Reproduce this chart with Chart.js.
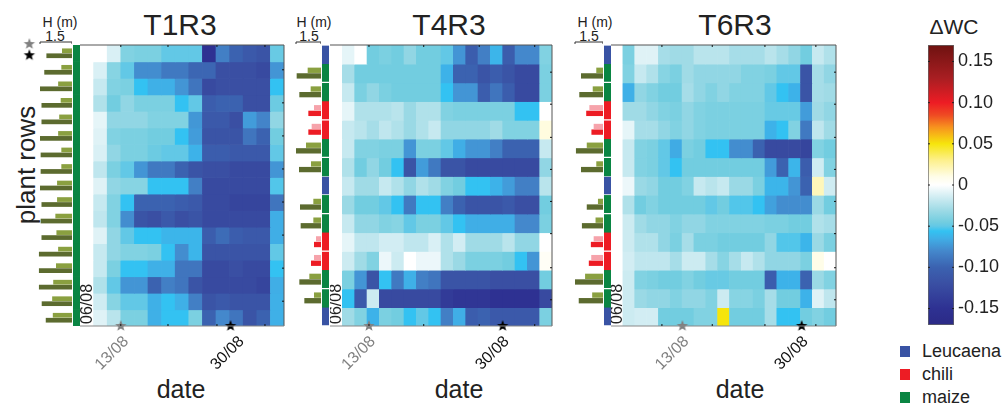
<!DOCTYPE html>
<html>
<head>
    <title>Delta WC heatmaps</title>
    <script src="https://cdn.jsdelivr.net/npm/chart.js"></script>
    <style>
        body { margin: 0; background: #fff; overflow: hidden; font-family: "Liberation Sans", Arial, sans-serif; color: #222; }
        canvas { position: absolute; filter: blur(0.4px); }
        .lbl { position: absolute; transform: translate(-50%, -50%); white-space: nowrap; }
        .swatch { position: absolute; width: 10px; height: 11px; left: 900px; }
    </style>
</head>
<body>
    <div class="lbl" style="left:180px;top:25px;font-size:30px">T1R3</div>
    <div class="lbl" style="left:449px;top:25px;font-size:30px">T4R3</div>
    <div class="lbl" style="left:735px;top:25px;font-size:30px">T6R3</div>
    <div class="lbl" style="left:181px;top:389px;font-size:25px">date</div>
    <div class="lbl" style="left:459px;top:389px;font-size:25px">date</div>
    <div class="lbl" style="left:740px;top:389px;font-size:25px">date</div>
    <div class="lbl" style="left:26px;top:165px;font-size:26px;transform:translate(-50%,-50%) rotate(-90deg)">plant rows</div>
    <div class="lbl" style="left:60px;top:22px;font-size:14px">H (m)</div>
    <div class="lbl" style="left:55px;top:36px;font-size:14px">1.5</div>
    <div class="lbl" style="left:314px;top:22px;font-size:14px">H (m)</div>
    <div class="lbl" style="left:309px;top:36px;font-size:14px">1.5</div>
    <div class="lbl" style="left:595px;top:22px;font-size:14px">H (m)</div>
    <div class="lbl" style="left:589px;top:36px;font-size:14px">1.5</div>
    <div class="lbl" style="left:954px;top:27px;font-size:21px">&Delta;WC</div>
    <div class="swatch" style="top:346px;background:#3953a4"></div>
    <div class="swatch" style="top:369px;background:#ed1c24"></div>
    <div class="swatch" style="top:392px;background:#0a8543"></div>
    <div class="lbl" style="left:922px;top:351px;font-size:18px;transform:translateY(-50%)">Leucaena</div>
    <div class="lbl" style="left:922px;top:374px;font-size:18px;transform:translateY(-50%)">chili</div>
    <div class="lbl" style="left:922px;top:397px;font-size:18px;transform:translateY(-50%)">maize</div>

    <script>
        // cell values (delta WC), one line per plant row
        const t1r3Values = [
            [0,0,-.012,-.04,-.042,-.042,-.05,-.05,-.05,-.15,-.085,-.1,-.11,-.115,-.048],
            [0,-.012,-.038,-.05,-.078,-.078,-.088,-.088,-.098,-.098,-.12,-.12,-.12,-.125,-.075],
            [0,-.018,-.04,-.042,-.056,-.064,-.064,-.075,-.09,-.125,-.12,-.12,-.12,-.12,-.056],
            [0,-.025,-.045,-.035,-.042,-.042,-.042,-.056,-.05,-.105,-.1,-.1,-.12,-.12,-.047],
            [0,-.008,-.035,-.035,-.035,-.04,-.04,-.04,-.074,-.11,-.11,-.12,-.072,-.082,-.035],
            [0,-.01,-.04,-.042,-.042,-.045,-.045,-.056,-.072,-.115,-.115,-.115,-.09,-.1,-.045],
            [0,-.012,-.035,-.042,-.042,-.047,-.05,-.05,-.063,-.105,-.105,-.11,-.11,-.11,-.05],
            [0,-.02,-.042,-.05,-.075,-.088,-.088,-.1,-.115,-.12,-.12,-.125,-.125,-.125,-.075],
            [0,-.01,-.035,-.038,-.038,-.056,-.056,-.056,-.085,-.125,-.125,-.125,-.125,-.125,-.052],
            [0,-.018,-.04,-.056,-.1,-.1,-.1,-.105,-.11,-.125,-.125,-.13,-.13,-.13,-.09],
            [0,-.02,-.04,-.078,-.115,-.12,-.11,-.12,-.115,-.125,-.125,-.125,-.125,-.125,-.065],
            [0,-.01,-.035,-.05,-.056,-.056,-.062,-.062,-.062,-.105,-.095,-.105,-.11,-.11,-.065],
            [0,-.018,-.035,-.04,-.04,-.042,-.056,-.078,-.062,-.115,-.115,-.115,-.115,-.115,-.05],
            [0,-.018,-.042,-.056,-.056,-.064,-.064,-.09,-.09,-.125,-.125,-.12,-.125,-.125,-.056],
            [0,-.025,-.05,-.075,-.075,-.1,-.085,-.09,-.115,-.125,-.125,-.125,-.125,-.13,-.065],
            [0,-.015,-.038,-.05,-.05,-.064,-.056,-.064,-.085,-.115,-.11,-.115,-.115,-.115,-.064],
            [0,-.01,-.022,-.042,-.042,-.064,-.056,-.056,-.042,-.1,-.08,-.09,-.115,-.1,-.064]
        ];
        const t4r3Values = [
            [0,-.008,0,-.045,-.042,-.045,-.035,-.045,-.045,-.05,-.075,-.105,-.085,-.062,-.105,-.08,-.08,-.04],
            [0,-.028,-.045,-.045,-.045,-.045,-.045,-.045,-.045,-.063,-.1,-.1,-.115,-.105,-.115,-.125,-.125,-.042],
            [0,-.018,-.042,-.035,-.042,-.045,-.045,-.045,-.045,-.056,-.075,-.075,-.105,-.09,-.105,-.125,-.125,-.042],
            [0,-.008,-.025,-.025,-.025,-.022,-.032,-.025,-.025,-.04,-.042,-.042,-.042,-.042,-.042,-.056,-.056,0],
            [0,-.018,-.022,-.028,-.02,-.025,-.032,-.025,-.018,-.035,-.035,-.035,-.035,-.03,-.04,-.04,-.04,.012],
            [0,-.018,-.04,-.04,-.042,-.042,-.075,-.042,-.042,-.05,-.065,-.075,-.075,-.085,-.1,-.1,-.1,-.018],
            [0,-.025,-.045,-.035,-.045,-.056,-.115,-.072,-.088,-.115,-.115,-.125,-.125,-.125,-.125,-.125,-.125,-.035],
            [0,-.018,-.03,-.03,-.018,-.025,-.035,-.025,-.03,-.04,-.045,-.056,-.056,-.063,-.072,-.085,-.085,-.022],
            [0,-.032,-.045,-.045,-.05,-.056,-.088,-.056,-.056,-.085,-.1,-.115,-.115,-.115,-.11,-.12,-.12,-.045],
            [0,-.018,-.035,-.035,-.04,-.038,-.05,-.042,-.042,-.05,-.056,-.065,-.065,-.065,-.065,-.08,-.08,-.042],
            [0,-.008,-.02,-.02,-.014,-.014,-.02,-.02,-.012,-.025,-.014,-.03,-.03,-.03,-.022,-.035,-.035,0],
            [0,-.016,-.03,-.04,-.006,-.016,0,-.006,-.006,-.025,-.032,-.042,-.042,-.042,-.045,-.056,-.075,.004],
            [0,-.042,-.075,-.115,-.056,-.088,-.064,-.085,-.09,-.115,-.115,-.115,-.115,-.12,-.12,-.12,-.12,-.045],
            [0,-.056,-.11,-.016,-.125,-.125,-.125,-.125,-.125,-.14,-.145,-.145,-.145,-.15,-.15,-.15,-.15,-.125],
            [0,-.03,-.04,-.063,-.042,-.045,-.056,-.05,-.056,-.085,-.065,-.105,-.1,-.11,-.11,-.11,-.11,-.042]
        ];
        const t6r3Values = [
            [0,-.042,-.01,-.01,-.028,-.03,-.03,-.022,-.022,-.022,-.028,-.028,-.028,-.022,-.028,-.035,-.045,-.018,-.025],
            [0,-.04,-.018,-.025,-.038,-.042,-.03,-.035,-.035,-.035,-.035,-.04,-.04,-.042,-.05,-.05,-.115,-.028,-.035],
            [0,-.064,-.035,-.04,-.045,-.045,-.028,-.035,-.04,-.035,-.04,-.04,-.04,-.05,-.056,-.063,-.115,-.028,-.03],
            [0,-.03,-.03,-.035,-.04,-.042,-.035,-.04,-.042,-.042,-.042,-.042,-.042,-.048,-.048,-.048,-.072,-.03,-.035],
            [0,-.008,-.028,-.028,-.035,-.04,-.035,-.04,-.042,-.042,-.042,-.042,-.042,-.063,-.056,-.04,-.088,-.02,-.03],
            [0,-.018,-.04,-.042,-.05,-.066,-.042,-.045,-.056,-.056,-.078,-.078,-.1,-.125,-.125,-.125,-.13,-.04,-.045],
            [0,-.018,-.04,-.042,-.05,-.056,-.045,-.045,-.045,-.045,-.045,-.045,-.045,-.072,-.1,-.062,-.105,-.015,-.04],
            [0,-.006,-.032,-.035,-.045,-.045,-.04,-.018,-.022,-.018,-.032,-.032,-.042,-.062,-.062,-.075,-.1,.02,-.015],
            [0,-.025,-.045,-.04,-.045,-.045,-.045,-.045,-.05,-.045,-.052,-.052,-.056,-.07,-.078,-.078,-.078,-.032,-.045],
            [0,-.016,-.03,-.035,-.035,-.04,-.035,-.035,-.04,-.04,-.04,-.04,-.04,-.042,-.042,-.045,-.045,-.025,-.028],
            [0,-.016,-.025,-.025,-.035,-.042,-.028,-.042,-.042,-.045,-.045,-.045,-.045,-.035,-.052,-.052,-.062,-.032,-.042],
            [0,-.014,-.02,-.02,-.02,-.028,-.016,-.016,-.028,-.038,-.028,-.018,-.025,-.035,-.035,-.035,-.042,.01,0],
            [0,-.016,-.04,-.042,-.045,-.045,-.04,-.045,-.048,-.048,-.045,-.045,-.045,-.105,-.063,-.063,-.1,-.032,-.04],
            [0,-.016,-.032,-.035,-.035,-.04,-.035,-.035,-.04,-.016,-.038,-.038,-.042,-.028,-.045,-.045,-.063,-.01,-.02],
            [0,-.016,-.014,-.014,-.045,-.045,-.045,-.04,-.04,.05,-.045,-.045,-.045,-.028,-.056,-.056,-.045,-.04,-.045]
        ];

        // plant type per row, L leucaena, C chili, M maize
        const t1r3Types = ['M','M','M','M','M','M','M','M','M','M','M','M','M','M','M','M','M'];
        const t4r3Types = ['L','M','M','C','C','M','M','L','M','M','C','C','M','M','L'];
        const t6r3Types = t4r3Types;

        // plant height (m), long lower bar and short upper bar
        const t1r3Dark = [1.2,1.3,1.5,1.43,1.43,1.5,1.47,1.47,1.5,1.43,1.47,1.43,1.55,1.55,1.55,1.42,1.23];
        const t1r3Light = [.47,.5,.65,.53,.6,.65,.5,.5,.7,.7,.78,.73,.65,.75,.88,.93,.9];
        const t4r3Dark = [0,1.46,1.3,.76,.76,1.5,1.32,0,1.26,1.22,.42,.6,1.3,1,0];
        const t4r3Light = [0,.8,.62,.42,.56,.9,.6,0,.46,.46,.3,.42,.7,.42,0];
        const t6r3Dark = [0,1.18,1.27,.9,.62,1.45,1.18,0,.87,1.13,.65,.76,1.5,1.3,0];
        const t6r3Light = [0,.36,.55,.73,.5,.87,.36,0,.27,.4,.5,.63,.96,.58,0];

        // axis ticks, in columns and rows of each panel
        const t1r3ColTicks = [3, 6.47, 10.07, 13.6];
        const t4r3ColTicks = [3.16, 7.6, 12.1, 16.6];
        const t6r3ColTicks = [4.3, 8.55, 13, 17.3];
        const t1r3RowTicks = [1.5, 3.5, 5.5, 7.5, 9.5, 11.5, 13.5, 15.5];
        const t4r3RowTicks = [1.45, 3.16, 4.93, 6.64, 8.35, 10.07, 11.89, 13.6];
        const dateLabels = ['13/08', '30/08'];
        const t1r3DateCols = [3, 11.07];
        const t4r3DateCols = [3.16, 14];
        const t6r3DateCols = [6.03, 16.1];
        const t1r3LabelCols = [3.1, 11.6];

        const colorbarTicks = [0.15, 0.10, 0.05, 0, -0.05, -0.10, -0.15];
        const colorbarLabels = ['0.15', '0.10', '0.05', '0', '-0.05', '-0.10', '-0.15'];

        const colorStops = [
            [-.17, '#2b2a86'], [-.15, '#2e3192'], [-.12, '#3a4fa3'], [-.10, '#3b62b0'],
            [-.08, '#4488cc'], [-.065, '#40aee6'], [-.056, '#33c2f2'], [-.05, '#62c8e6'],
            [-.045, '#72cde0'], [-.03, '#a0dbe6'], [-.015, '#cfecf2'], [0, '#ffffff'],
            [.01, '#fffde8'], [.03, '#fdf08c'], [.05, '#f6e50c'], [.07, '#f7931e'],
            [.085, '#ef4a23'], [.10, '#ed1c24'], [.13, '#a81e22'], [.17, '#6e1210']
        ];
        const typeColors = { L: '#3953a4', C: '#ed1c24', M: '#0a8543' };
        const darkColors = { L: '#5c6b2f', C: '#ed1c24', M: '#5c6b2f' };
        const lightColors = { L: '#8aa040', C: '#f6a3ab', M: '#8aa040' };

        Chart.defaults.font.family = '"Liberation Sans", Arial, sans-serif';
        Chart.defaults.animation = false;
        Chart.defaults.responsive = false;
        Chart.defaults.plugins.legend.display = false;
        Chart.defaults.plugins.tooltip.enabled = false;

        function hexRgb(h) {
            return [1, 3, 5].map(i => parseInt(h.substr(i, 2), 16));
        }

        function heatColor(v) {
            for (let i = 1; i < colorStops.length; i++) {
                if (v <= colorStops[i][0]) {
                    const a = colorStops[i - 1], b = colorStops[i];
                    const t = (v - a[0]) / (b[0] - a[0]);
                    const ca = hexRgb(a[1]), cb = hexRgb(b[1]);
                    return 'rgb(' + ca.map((c, k) => Math.round(c + (cb[k] - c) * t)).join(',') + ')';
                }
            }
            return colorStops[colorStops.length - 1][1];
        }

        function addCanvas(left, top, width, height) {
            const c = document.createElement('canvas');
            c.width = width;
            c.height = height;
            c.style.left = left + 'px';
            c.style.top = top + 'px';
            document.body.appendChild(c);
            return c;
        }

        function makeStar(color, r) {
            const c = document.createElement('canvas');
            c.width = c.height = r * 2 + 2;
            const g = c.getContext('2d');
            g.translate(r + 1, r + 1);
            g.beginPath();
            for (let i = 0; i < 10; i++) {
                const rad = i % 2 ? r * 0.42 : r;
                const a = -Math.PI / 2 + i * Math.PI / 5;
                g.lineTo(rad * Math.cos(a), rad * Math.sin(a));
            }
            g.closePath();
            g.fillStyle = color;
            g.fill();
            return c;
        }

        const greyStar = makeStar('#808080', 6);
        const blackStar = makeStar('#000000', 6);
        const top_ = 45, bottom_ = 326, pageH = 407;

        function drawHeat(p) {
            const nCols = p.values[0].length;
            const nRows = p.values.length;
            const datasets = p.values.map((row, r) => ({
                data: row.map((v, c) => ({ x: c + 0.5, y: [r, r + 1.04] })),
                backgroundColor: row.map(heatColor),
                stack: 'cells',
                barPercentage: 1.05,
                categoryPercentage: 1
            }));
            datasets.push({
                type: 'scatter',
                order: -1,
                clip: false,
                data: p.dateCols.map(c => ({ x: c, y: nRows })),
                pointStyle: [greyStar, blackStar],
                pointRadius: 6
            });
            const labelCols = p.labelCols || p.dateCols;
            const frame = {
                id: 'frame',
                afterDatasetsDraw(chart) {
                    const g = chart.ctx, a = chart.chartArea, sx = chart.scales.x;
                    g.save();
                    g.lineWidth = 1;
                    g.strokeStyle = '#555';
                    g.beginPath();
                    g.moveTo(a.left, a.top); g.lineTo(a.right, a.top); g.lineTo(a.right, a.bottom);
                    g.stroke();
                    g.strokeStyle = '#888';
                    g.beginPath();
                    g.moveTo(a.left, a.bottom); g.lineTo(a.right, a.bottom);
                    g.stroke();
                    g.strokeStyle = '#111';
                    p.colTicks.forEach(c => {
                        const x = sx.getPixelForValue(c);
                        g.beginPath();
                        g.moveTo(x, a.top); g.lineTo(x, a.top + 2);
                        g.moveTo(x, a.bottom); g.lineTo(x, a.bottom - 2);
                        g.stroke();
                    });
                    p.rowTicks.forEach(r => {
                        const y = chart.scales.y.getPixelForValue(r);
                        g.beginPath();
                        g.moveTo(a.right, y); g.lineTo(a.right - 2, y);
                        g.stroke();
                    });
                    g.font = '16px "Liberation Sans", Arial, sans-serif';
                    g.textBaseline = 'middle';
                    // first date sits inside the white column
                    g.save();
                    g.translate(sx.getPixelForValue(0.55), a.bottom - 2);
                    g.rotate(-Math.PI / 2);
                    g.fillStyle = '#222';
                    g.fillText('06/08', 0, 0);
                    g.restore();
                    // the two marked dates, slanted and ending under their star
                    dateLabels.forEach((label, i) => {
                        g.save();
                        g.translate(sx.getPixelForValue(labelCols[i]) + 4, a.bottom + 13);
                        g.rotate(-Math.PI / 4);
                        g.textAlign = 'right';
                        g.fillStyle = i === 0 ? '#808080' : '#111';
                        g.fillText(label, 0, 0);
                        g.restore();
                    });
                    g.restore();
                }
            };
            new Chart(addCanvas(p.heatLeft, 0, p.heatWidth + 40, pageH), {
                type: 'bar',
                data: { datasets: datasets },
                options: {
                    layout: { autoPadding: false, padding: { top: top_, right: 40, left: 0, bottom: pageH - bottom_ } },
                    scales: {
                        x: { type: 'linear', display: false, offset: false, min: 0, max: nCols },
                        y: { type: 'linear', display: false, stacked: false, reverse: true, min: 0, max: nRows }
                    }
                },
                plugins: [frame]
            });
        }

        function drawPlants(p) {
            const nRows = p.types.length;
            const rows = p.types.map((t, r) => r + 0.5);
            const datasets = [
                { data: rows.map((y, i) => ({ x: p.light[i], y: y })), backgroundColor: p.types.map(t => lightColors[t]) },
                { data: rows.map((y, i) => ({ x: p.dark[i], y: y })), backgroundColor: p.types.map(t => darkColors[t]) }
            ].map(d => Object.assign(d, { clip: false, categoryPercentage: 0.6, barPercentage: 0.95 }));
            if (p.stars) {
                datasets.push({
                    type: 'scatter', clip: false, order: -1,
                    data: p.stars, pointStyle: [greyStar, blackStar], pointRadius: 6
                });
            }
            const bracket = {
                id: 'bracket',
                afterDatasetsDraw(chart) {
                    const g = chart.ctx, sx = chart.scales.x;
                    const x0 = sx.getPixelForValue(1.5), x1 = sx.getPixelForValue(0);
                    g.save();
                    g.strokeStyle = '#333';
                    g.beginPath();
                    g.moveTo(x0, top_ - 1); g.lineTo(x0, top_ - 3); g.lineTo(x1, top_ - 3); g.lineTo(x1, top_ - 1);
                    g.stroke();
                    g.restore();
                }
            };
            const xMax = p.xMax || 1.5;
            const padLeft = p.plantRight - p.plantLeft - p.plantWidth * xMax / 1.5;
            new Chart(addCanvas(p.plantLeft, 0, p.plantRight - p.plantLeft, pageH), {
                type: 'bar',
                data: { datasets: datasets },
                options: {
                    indexAxis: 'y',
                    layout: { autoPadding: false, padding: { top: top_, bottom: pageH - bottom_, left: padLeft, right: 0 } },
                    scales: {
                        x: { type: 'linear', display: false, reverse: true, min: 0, max: xMax },
                        y: { type: 'linear', display: false, offset: false, reverse: true, min: 0, max: nRows }
                    }
                },
                plugins: [bracket]
            });
        }

        function drawStrip(p) {
            new Chart(addCanvas(p.stripLeft, top_, 7, bottom_ - top_), {
                type: 'bar',
                data: {
                    labels: p.types.map((t, i) => i),
                    datasets: [{
                        data: p.types.map(() => [0, 1]),
                        backgroundColor: p.types.map(t => typeColors[t]),
                        borderColor: '#fff',
                        borderSkipped: false,
                        borderWidth: c => ({
                            top: c.dataIndex > 0 && p.types[c.dataIndex - 1] !== p.types[c.dataIndex] ? 1 : 0,
                            bottom: c.dataIndex < p.types.length - 1 && p.types[c.dataIndex + 1] !== p.types[c.dataIndex] ? 1 : 0,
                            left: 0, right: 0
                        }),
                        barPercentage: 1.04,
                        categoryPercentage: 1
                    }]
                },
                options: {
                    indexAxis: 'y',
                    scales: {
                        x: { display: false, min: 0, max: 1 },
                        y: { display: false, reverse: true }
                    }
                }
            });
        }

        const panels = [
            {
                values: t1r3Values, types: t1r3Types, dark: t1r3Dark, light: t1r3Light,
                colTicks: t1r3ColTicks, rowTicks: t1r3RowTicks, dateCols: t1r3DateCols, labelCols: t1r3LabelCols,
                heatLeft: 80, heatWidth: 204, stripLeft: 73,
                plantLeft: 15, plantRight: 72, plantWidth: 32, xMax: 2.4,
                stars: [{ x: 2, y: -0.06 }, { x: 2, y: 0.62 }]
            },
            {
                values: t4r3Values, types: t4r3Types, dark: t4r3Dark, light: t4r3Light,
                colTicks: t4r3ColTicks, rowTicks: t4r3RowTicks, dateCols: t4r3DateCols,
                heatLeft: 330, heatWidth: 222, stripLeft: 322,
                plantLeft: 285, plantRight: 321, plantWidth: 25
            },
            {
                values: t6r3Values, types: t6r3Types, dark: t6r3Dark, light: t6r3Light,
                colTicks: t6r3ColTicks, rowTicks: t4r3RowTicks, dateCols: t6r3DateCols,
                heatLeft: 611, heatWidth: 225, stripLeft: 604,
                plantLeft: 565, plantRight: 603, plantWidth: 28
            }
        ];

        panels.forEach(p => {
            drawPlants(p);
            drawStrip(p);
            drawHeat(p);
        });

        // colour bar
        new Chart(addCanvas(915, 0, 88, pageH), {
            type: 'bar',
            data: {
                labels: ['dWC'],
                datasets: [{
                    data: [[-0.17, 0.17]],
                    barPercentage: 1,
                    categoryPercentage: 1,
                    borderColor: '#666',
                    borderWidth: 1,
                    borderSkipped: false,
                    backgroundColor(c) {
                        const a = c.chart.chartArea;
                        if (!a) return null;
                        const grad = c.chart.ctx.createLinearGradient(0, a.bottom, 0, a.top);
                        colorStops.forEach(s => grad.addColorStop((s[0] + 0.17) / 0.34, s[1]));
                        return grad;
                    }
                }]
            },
            options: {
                layout: { padding: { top: top_, bottom: pageH - 325, left: 13, right: 0 } },
                scales: {
                    x: { display: false },
                    y: {
                        position: 'right', min: -0.17, max: 0.17,
                        afterFit(s) { s.width = 49; },
                        afterBuildTicks(s) { s.ticks = colorbarTicks.map(v => ({ value: v })); },
                        grid: { display: false, drawTicks: false },
                        border: { display: false },
                        ticks: {
                            padding: 4, font: { size: 18 }, color: '#222',
                            callback: (v, i) => colorbarLabels[i]
                        }
                    }
                }
            },
            plugins: [{
                id: 'barTicks',
                afterDatasetsDraw(chart) {
                    const g = chart.ctx, a = chart.chartArea;
                    g.save();
                    g.strokeStyle = '#222';
                    colorbarTicks.forEach(v => {
                        const y = chart.scales.y.getPixelForValue(v);
                        g.beginPath();
                        g.moveTo(a.left, y); g.lineTo(a.left + 2, y);
                        g.moveTo(a.right, y); g.lineTo(a.right - 2, y);
                        g.stroke();
                    });
                    g.restore();
                }
            }]
        });
    </script>
</body>
</html>
